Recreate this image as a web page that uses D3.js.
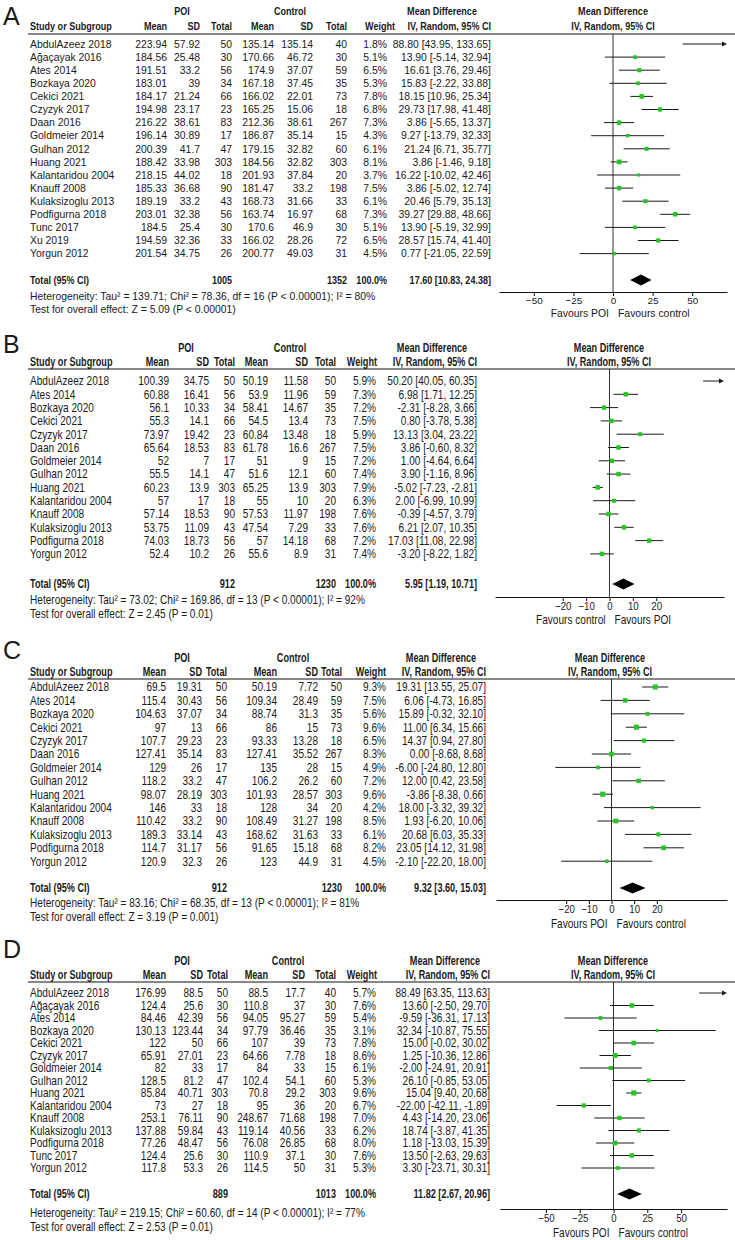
<!DOCTYPE html>
<html>
<head>
<meta charset="utf-8">
<script src="https://cdn.jsdelivr.net/npm/d3@7"></script>
<style>
body { margin: 0; background: #fff; }
svg { display: block; }
text { font-family: "Liberation Sans", Arial, sans-serif; fill: #1a1a1a; }
</style>
</head>
<body>
<svg id="fig" width="735" height="1240"></svg>
<script>
// ---------- panel A ----------
const studiesA = ["AbdulAzeez 2018", "Ağaçayak 2016", "Ates 2014", "Bozkaya 2020", "Cekici 2021", "Czyzyk 2017", "Daan 2016", "Goldmeier 2014", "Gulhan 2012", "Huang 2021", "Kalantaridou 2004", "Knauff 2008", "Kulaksizoglu 2013", "Podfigurna 2018", "Tunc 2017", "Xu 2019", "Yorgun 2012"];
const poiMeanA = [223.94, 184.56, 191.51, 183.01, 184.17, 194.98, 216.22, 196.14, 200.39, 188.42, 218.15, 185.33, 189.19, 203.01, 184.5, 194.59, 201.54];
const poiSdA   = [57.92, 25.48, 33.2, 39, 21.24, 23.17, 38.61, 30.89, 41.7, 33.98, 44.02, 36.68, 33.2, 32.38, 25.4, 32.36, 34.75];
const poiNA    = [50, 30, 56, 34, 66, 23, 83, 17, 47, 303, 18, 90, 43, 56, 30, 33, 26];
const ctlMeanA = [135.14, 170.66, 174.9, 167.18, 166.02, 165.25, 212.36, 186.87, 179.15, 184.56, 201.93, 181.47, 168.73, 163.74, 170.6, 166.02, 200.77];
const ctlSdA   = [135.14, 46.72, 37.07, 37.45, 22.01, 15.06, 38.61, 35.14, 32.82, 32.82, 37.84, 33.2, 31.66, 16.97, 46.9, 28.26, 49.03];
const ctlNA    = [40, 30, 59, 35, 73, 18, 267, 15, 60, 303, 20, 198, 33, 68, 30, 72, 31];
const weightA  = [1.8, 5.1, 6.5, 5.3, 7.8, 6.8, 7.3, 4.3, 6.1, 8.1, 3.7, 7.5, 6.1, 7.3, 5.1, 6.5, 4.5];
const mdA      = [88.80, 13.90, 16.61, 15.83, 18.15, 29.73, 3.86, 9.27, 21.24, 3.86, 16.22, 3.86, 20.46, 39.27, 13.90, 28.57, 0.77];
const loA      = [43.95, -5.14, 3.76, -2.22, 10.96, 17.98, -5.65, -13.79, 6.71, -1.46, -10.02, -5.02, 5.79, 29.88, -5.19, 15.74, -21.05];
const hiA      = [133.65, 32.94, 29.46, 33.88, 25.34, 41.48, 13.37, 32.33, 35.77, 9.18, 42.46, 12.74, 35.13, 48.66, 32.99, 41.40, 22.59];
const totalA   = [1005, 1352, 17.60, 10.83, 24.38];
const hetA  = "Heterogeneity: Tau² = 139.71; Chi² = 78.36, df = 16 (P < 0.00001); I² = 80%";
const testA = "Test for overall effect: Z = 5.09 (P < 0.00001)";
const ticksA = [-50, -25, 0, 25, 50];
const favoursA = ["Favours POI", "Favours control"];

// ---------- panel B ----------
const studiesB = ["AbdulAzeez 2018", "Ates 2014", "Bozkaya 2020", "Cekici 2021", "Czyzyk 2017", "Daan 2016", "Goldmeier 2014", "Gulhan 2012", "Huang 2021", "Kalantaridou 2004", "Knauff 2008", "Kulaksizoglu 2013", "Podfigurna 2018", "Yorgun 2012"];
const poiMeanB = [100.39, 60.88, 56.1, 55.3, 73.97, 65.64, 52, 55.5, 60.23, 57, 57.14, 53.75, 74.03, 52.4];
const poiSdB   = [34.75, 16.41, 10.33, 14.1, 19.42, 18.53, 7, 14.1, 13.9, 17, 18.53, 11.09, 18.73, 10.2];
const poiNB    = [50, 56, 34, 66, 23, 83, 17, 47, 303, 18, 90, 43, 56, 26];
const ctlMeanB = [50.19, 53.9, 58.41, 54.5, 60.84, 61.78, 51, 51.6, 65.25, 55, 57.53, 47.54, 57, 55.6];
const ctlSdB   = [11.58, 11.96, 14.67, 13.4, 13.48, 16.6, 9, 12.1, 13.9, 10, 11.97, 7.29, 14.18, 8.9];
const ctlNB    = [50, 59, 35, 73, 18, 267, 15, 60, 303, 20, 198, 33, 68, 31];
const weightB  = [5.9, 7.3, 7.2, 7.5, 5.9, 7.5, 7.2, 7.4, 7.9, 6.3, 7.6, 7.6, 7.2, 7.4];
const mdB      = [50.20, 6.98, -2.31, 0.80, 13.13, 3.86, 1.00, 3.90, -5.02, 2.00, -0.39, 6.21, 17.03, -3.20];
const loB      = [40.05, 1.71, -8.28, -3.78, 3.04, -0.60, -4.64, -1.16, -7.23, -6.99, -4.57, 2.07, 11.08, -8.22];
const hiB      = [60.35, 12.25, 3.66, 5.38, 23.22, 8.32, 6.64, 8.96, -2.81, 10.99, 3.79, 10.35, 22.98, 1.82];
const totalB   = [912, 1230, 5.95, 1.19, 10.71];
const hetB  = "Heterogeneity: Tau² = 73.02; Chi² = 169.86, df = 13 (P < 0.00001); I² = 92%";
const testB = "Test for overall effect: Z = 2.45 (P = 0.01)";
const ticksB = [-20, -10, 0, 10, 20];
const favoursB = ["Favours control", "Favours POI"];

// ---------- panel C ----------
const studiesC = ["AbdulAzeez 2018", "Ates 2014", "Bozkaya 2020", "Cekici 2021", "Czyzyk 2017", "Daan 2016", "Goldmeier 2014", "Gulhan 2012", "Huang 2021", "Kalantaridou 2004", "Knauff 2008", "Kulaksizoglu 2013", "Podfigurna 2018", "Yorgun 2012"];
const poiMeanC = [69.5, 115.4, 104.63, 97, 107.7, 127.41, 129, 118.2, 98.07, 146, 110.42, 189.3, 114.7, 120.9];
const poiSdC   = [19.31, 30.43, 37.07, 13, 29.23, 35.14, 26, 33.2, 28.19, 33, 33.2, 33.14, 31.17, 32.3];
const poiNC    = [50, 56, 34, 66, 23, 83, 17, 47, 303, 18, 90, 43, 56, 26];
const ctlMeanC = [50.19, 109.34, 88.74, 86, 93.33, 127.41, 135, 106.2, 101.93, 128, 108.49, 168.62, 91.65, 123];
const ctlSdC   = [7.72, 28.49, 31.3, 15, 13.28, 35.52, 28, 26.2, 28.57, 34, 31.27, 31.63, 15.18, 44.9];
const ctlNC    = [50, 59, 35, 73, 18, 267, 15, 60, 303, 20, 198, 33, 68, 31];
const weightC  = [9.3, 7.5, 5.6, 9.6, 6.5, 8.3, 4.9, 7.2, 9.6, 4.2, 8.5, 6.1, 8.2, 4.5];
const mdC      = [19.31, 6.06, 15.89, 11.00, 14.37, 0.00, -6.00, 12.00, -3.86, 18.00, 1.93, 20.68, 23.05, -2.10];
const loC      = [13.55, -4.73, -0.32, 6.34, 0.94, -8.68, -24.80, 0.42, -8.38, -3.32, -6.20, 6.03, 14.12, -22.20];
const hiC      = [25.07, 16.85, 32.10, 15.66, 27.80, 8.68, 12.80, 23.58, 0.66, 39.32, 10.06, 35.33, 31.98, 18.00];
const totalC   = [912, 1230, 9.32, 3.60, 15.03];
const hetC  = "Heterogeneity: Tau² = 83.16; Chi² = 68.35, df = 13 (P < 0.00001); I² = 81%";
const testC = "Test for overall effect: Z = 3.19 (P = 0.001)";
const ticksC = [-20, -10, 0, 10, 20];
const favoursC = ["Favours POI", "Favours control"];

// ---------- panel D ----------
const studiesD = ["AbdulAzeez 2018", "Ağaçayak 2016", "Ates 2014", "Bozkaya 2020", "Cekici 2021", "Czyzyk 2017", "Goldmeier 2014", "Gulhan 2012", "Huang 2021", "Kalantaridou 2004", "Knauff 2008", "Kulaksizoglu 2013", "Podfigurna 2018", "Tunc 2017", "Yorgun 2012"];
const poiMeanD = [176.99, 124.4, 84.46, 130.13, 122, 65.91, 82, 128.5, 85.84, 73, 253.1, 137.88, 77.26, 124.4, 117.8];
const poiSdD   = [88.5, 25.6, 42.39, 123.44, 50, 27.01, 33, 81.2, 40.71, 27, 76.11, 59.84, 48.47, 25.6, 53.3];
const poiND    = [50, 30, 56, 34, 66, 23, 17, 47, 303, 18, 90, 43, 56, 30, 26];
const ctlMeanD = [88.5, 110.8, 94.05, 97.79, 107, 64.66, 84, 102.4, 70.8, 95, 248.67, 119.14, 76.08, 110.9, 114.5];
const ctlSdD   = [17.7, 37, 95.27, 36.46, 39, 7.78, 33, 54.1, 29.2, 36, 71.68, 40.56, 26.85, 37.1, 50];
const ctlND    = [40, 30, 59, 35, 73, 18, 15, 60, 303, 20, 198, 33, 68, 30, 31];
const weightD  = [5.7, 7.6, 5.4, 3.1, 7.8, 8.6, 6.1, 5.3, 9.6, 6.7, 7.0, 6.2, 8.0, 7.6, 5.3];
const mdD      = [88.49, 13.60, -9.59, 32.34, 15.00, 1.25, -2.00, 26.10, 15.04, -22.00, 4.43, 18.74, 1.18, 13.50, 3.30];
const loD      = [63.35, -2.50, -36.31, -10.87, -0.02, -10.36, -24.91, -0.85, 9.40, -42.11, -14.20, -3.87, -13.03, -2.63, -23.71];
const hiD      = [113.63, 29.70, 17.13, 75.55, 30.02, 12.86, 20.91, 53.05, 20.68, -1.89, 23.06, 41.35, 15.39, 29.63, 30.31];
const totalD   = [889, 1013, 11.82, 2.67, 20.96];
const hetD  = "Heterogeneity: Tau² = 219.15; Chi² = 60.60, df = 14 (P < 0.00001); I² = 77%";
const testD = "Test for overall effect: Z = 2.53 (P = 0.01)";
const ticksD = [-50, -25, 0, 25, 50];
const favoursD = ["Favours POI", "Favours control"];

// layout of each panel (pixel positions only; all values come from the arrays above)
// cols = right edges of: POI mean, SD, total, control mean, SD, total, weight, CI text
const panels = [
  { label: "A", studies: studiesA, pm: poiMeanA, psd: poiSdA, pn: poiNA, cm: ctlMeanA, csd: ctlSdA, cn: ctlNA,
    w: weightA, md: mdA, lo: loA, hi: hiA, total: totalA, het: hetA, test: testA, ticks: ticksA, fav: favoursA,
    fs: 10.4, sx: 1, bsx: 0.87, labelY: 25, grpY: 15, hdrY: 30, lineY: 34, row0: 44, pitch: 13.1,
    totalY: 280, hetY: 296, testY: 309, axisY: 292, favY: 313,
    cols: [167, 200, 232, 274, 313, 347, 387, 491], grp: [182, 290, 442, 613], wHdr: 395,
    domain: [-72, 72], range: [499, 727] },
  { label: "B", studies: studiesB, pm: poiMeanB, psd: poiSdB, pn: poiNB, cm: ctlMeanB, csd: ctlSdB, cn: ctlNB,
    w: weightB, md: mdB, lo: loB, hi: hiB, total: totalB, het: hetB, test: testB, ticks: ticksB, fav: favoursB,
    fs: 12, sx: 0.84, bsx: 0.76, labelY: 353, grpY: 352, hdrY: 366, lineY: 369, row0: 381, pitch: 13.3,
    totalY: 584, hetY: 600, testY: 614, axisY: 597, favY: 620,
    cols: [169, 209, 235, 268, 308, 336, 376, 477], grp: [186, 290, 432, 609], wHdr: 377,
    domain: [-49, 49], range: [495, 724] },
  { label: "C", studies: studiesC, pm: poiMeanC, psd: poiSdC, pn: poiNC, cm: ctlMeanC, csd: ctlSdC, cn: ctlNC,
    w: weightC, md: mdC, lo: loC, hi: hiC, total: totalC, het: hetC, test: testC, ticks: ticksC, fav: favoursC,
    fs: 12, sx: 0.84, bsx: 0.76, labelY: 659, grpY: 662, hdrY: 676, lineY: 679, row0: 687, pitch: 13.4,
    totalY: 888, hetY: 903, testY: 917, axisY: 900, favY: 924,
    cols: [166, 202, 227, 277, 318, 342, 386, 486], grp: [182, 293, 441, 610], wHdr: 386,
    domain: [-51, 51], range: [496, 727] },
  { label: "D", studies: studiesD, pm: poiMeanD, psd: poiSdD, pn: poiND, cm: ctlMeanD, csd: ctlSdD, cn: ctlND,
    w: weightD, md: mdD, lo: loD, hi: hiD, total: totalD, het: hetD, test: testD, ticks: ticksD, fav: favoursD,
    fs: 12, sx: 0.84, bsx: 0.76, labelY: 958, grpY: 965, hdrY: 979, lineY: 982, row0: 993, pitch: 12.5,
    totalY: 1194, hetY: 1213, testY: 1227, axisY: 1209, favY: 1233,
    cols: [166, 203, 228, 268, 305, 336, 376, 490], grp: [182, 288, 445, 613], wHdr: 377,
    domain: [-84, 84], range: [500, 727] }
];

const svg = d3.select("#fig");
const green = "#25c525";
const sizeScale = d3.scaleSqrt().domain([0, 10]).range([0, 5.2]);
const f2 = v => v.toFixed(2);
const ciText = (m, l, h) => f2(m) + " [" + f2(l) + ", " + f2(h) + "]";

// text helper: the scanned panels are squeezed horizontally, so scale x
function txt(g, x, y, s, p, opt) {
  opt = opt || {};
  const sx = opt.bold ? p.bsx : p.sx;
  return g.append("text")
    .attr("transform", "translate(" + x + "," + y + ") scale(" + sx + ",1)")
    .attr("text-anchor", opt.anchor || "start")
    .attr("font-size", p.fs)
    .attr("font-weight", opt.bold ? "bold" : null)
    .text(s);
}

function drawPanel(p) {
  const g = svg.append("g");
  const base = p.fs * 0.36;           // row centre -> baseline
  const x = d3.scaleLinear().domain(p.domain).range(p.range);
  const rowY = i => p.row0 + i * p.pitch;
  const c = p.cols;

  // panel letter
  g.append("text").attr("x", 3).attr("y", p.labelY)
    .attr("font-family", "'Liberation Serif', 'Times New Roman', serif")
    .attr("font-size", 25).text(p.label);

  // header rows
  txt(g, p.grp[0], p.grpY, "POI", p, { anchor: "middle", bold: true });
  txt(g, p.grp[1], p.grpY, "Control", p, { anchor: "middle", bold: true });
  txt(g, p.grp[2], p.grpY, "Mean Difference", p, { anchor: "middle", bold: true });
  txt(g, p.grp[3], p.grpY, "Mean Difference", p, { anchor: "middle", bold: true });
  txt(g, 30, p.hdrY, "Study or Subgroup", p, { bold: true });
  ["Mean", "SD", "Total", "Mean", "SD", "Total"].forEach((h, k) =>
    txt(g, c[k], p.hdrY, h, p, { anchor: "end", bold: true }));
  txt(g, p.wHdr, p.hdrY, "Weight", p, { anchor: "end", bold: true });
  txt(g, c[7], p.hdrY, "IV, Random, 95% CI", p, { anchor: "end", bold: true });
  txt(g, p.grp[3], p.hdrY, "IV, Random, 95% CI", p, { anchor: "middle", bold: true });

  g.append("line").attr("x1", 28).attr("x2", 735).attr("y1", p.lineY).attr("y2", p.lineY)
    .attr("stroke", "#111").attr("stroke-width", 1);

  // study rows
  p.studies.forEach((s, i) => {
    const y = rowY(i) + base;
    txt(g, 30, y, s, p);
    [p.pm[i], p.psd[i], p.pn[i], p.cm[i], p.csd[i], p.cn[i]].forEach((v, k) =>
      txt(g, c[k], y, String(v), p, { anchor: "end" }));
    txt(g, c[6], y, p.w[i].toFixed(1) + "%", p, { anchor: "end" });
    txt(g, c[7], y, ciText(p.md[i], p.lo[i], p.hi[i]), p, { anchor: "end" });
  });

  // totals
  const t = p.total;
  txt(g, 30, p.totalY + base, "Total (95% CI)", p, { bold: true });
  txt(g, c[2], p.totalY + base, String(t[0]), p, { anchor: "end", bold: true });
  txt(g, c[5], p.totalY + base, String(t[1]), p, { anchor: "end", bold: true });
  txt(g, c[6], p.totalY + base, "100.0%", p, { anchor: "end", bold: true });
  txt(g, c[7], p.totalY + base, ciText(t[2], t[3], t[4]), p, { anchor: "end", bold: true });
  txt(g, 30, p.hetY + base, p.het, p);
  txt(g, 30, p.testY + base, p.test, p);

  // forest plot: line of no effect
  g.append("line").attr("x1", x(0)).attr("x2", x(0)).attr("y1", p.lineY).attr("y2", p.axisY)
    .attr("stroke", "#333").attr("stroke-width", 1);

  const [dmin, dmax] = p.domain;
  const rows = g.append("g").selectAll("g").data(p.studies.map((s, i) => i)).join("g");
  rows.append("line")
    .attr("x1", i => x(Math.max(p.lo[i], dmin)))
    .attr("x2", i => x(Math.min(p.hi[i], dmax)) - (p.hi[i] > dmax ? 4 : 0))
    .attr("y1", i => rowY(i)).attr("y2", i => rowY(i))
    .attr("stroke", "#1a1a1a").attr("stroke-width", 1);
  rows.filter(i => p.hi[i] > dmax).append("path")
    .attr("d", i => {
      const xe = x(dmax), y = rowY(i);
      return "M" + xe + "," + y + "L" + (xe - 5) + "," + (y - 2.5) + "L" + (xe - 5) + "," + (y + 2.5) + "Z";
    })
    .attr("fill", "#1a1a1a");
  rows.filter(i => p.md[i] >= dmin && p.md[i] <= dmax).append("rect")
    .attr("x", i => x(p.md[i]) - sizeScale(p.w[i]) / 2)
    .attr("y", i => rowY(i) - sizeScale(p.w[i]) / 2)
    .attr("width", i => sizeScale(p.w[i]))
    .attr("height", i => sizeScale(p.w[i]))
    .attr("fill", green);

  // pooled diamond
  const dy = p.totalY;
  g.append("path")
    .attr("d", "M" + x(t[3]) + "," + dy + "L" + x(t[2]) + "," + (dy - 5.5) + "L" + x(t[4]) + "," + dy +
               "L" + x(t[2]) + "," + (dy + 5.5) + "Z")
    .attr("fill", "#000");

  // axis
  const ax = g.append("g").attr("transform", "translate(0," + p.axisY + ")")
    .call(d3.axisBottom(x).tickValues(p.ticks).tickSize(4).tickSizeOuter(0).tickFormat(d3.format("d")));
  ax.select(".domain").attr("stroke", "#111");
  ax.selectAll(".tick line").attr("stroke", "#111");
  ax.selectAll(".tick text")
    .attr("font-size", p.fs - 0.5)
    .attr("font-family", "'Liberation Sans', Arial, sans-serif")
    .attr("fill", "#1a1a1a")
    .attr("y", 5)
    .attr("transform", "scale(" + p.sx + ",1)");

  txt(g, x(0) - 4, p.favY + base, p.fav[0], p, { anchor: "end" });
  txt(g, x(0) + 5, p.favY + base, p.fav[1], p);
}

panels.forEach(drawPanel);
</script>
</body>
</html>
